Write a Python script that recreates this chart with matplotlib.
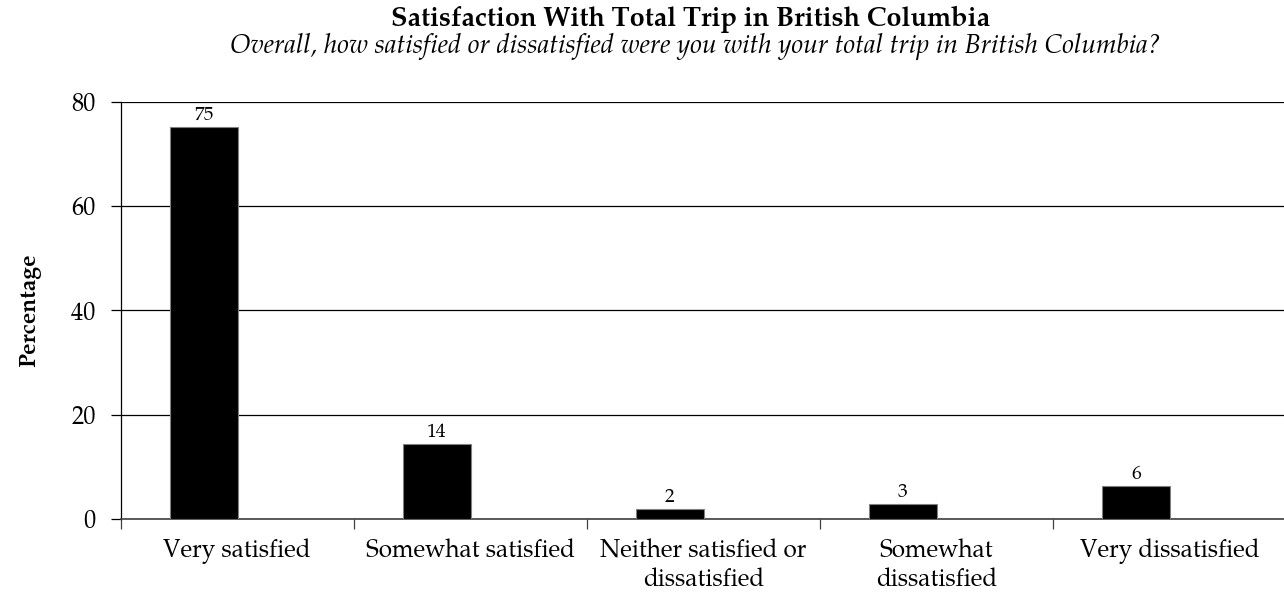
import matplotlib.pyplot as plt
import numpy as np

plt.rcParams['font.family'] = ['P052', 'TeX Gyre Pagella', 'URW Palladio L', 'Liberation Serif', 'DejaVu Serif']

# Data
categories = ["Very satisfied", "Somewhat satisfied", "Neither satisfied or\ndissatisfied",
              "Somewhat\ndissatisfied", "Very dissatisfied"]
values = [75.1, 14.4, 1.9, 2.8, 6.3]
value_labels = ["75", "14", "2", "3", "6"]
y_ticks = [0, 20, 40, 60, 80]

fig = plt.figure(figsize=(12.84, 5.92), dpi=100)
ax = fig.add_axes([0.094, 0.1233, 0.9075, 0.7049])

x = np.arange(len(categories))
bar_w = 0.295
bars = ax.bar(x - 0.143, values, width=bar_w, color="black", edgecolor="#808080",
              linewidth=0.8, zorder=3)

for b, lab in zip(bars, value_labels):
    ax.text(b.get_x() + b.get_width() / 2, b.get_height() + 0.4, lab,
            ha="center", va="bottom", fontsize=14)

ax.set_xlim(-0.5, len(categories) - 0.5)
ax.set_ylim(0, 80)
ax.set_yticks(y_ticks)
ax.yaxis.grid(True, color="black", linewidth=0.9, zorder=0)
ax.tick_params(axis="y", direction="out", length=7, width=0.9, labelsize=17.5, pad=11)

# category labels centred, ticks between categories
ax.set_xticks(x)
ax.set_xticklabels(categories, fontsize=17.5, linespacing=1.18)
ax.tick_params(axis="x", which="major", length=0, pad=14)
ax.set_xticks(np.arange(-0.5, len(categories) + 0.5, 1), minor=True)
ax.tick_params(axis="x", which="minor", direction="out", length=7, width=0.9, color="#404040")

for side in ["top", "right"]:
    ax.spines[side].set_visible(False)
ax.spines["left"].set_color("black")
ax.spines["bottom"].set_color("#404040")
ax.spines["left"].set_linewidth(0.9)
ax.spines["bottom"].set_linewidth(1.2)

ax.set_ylabel("Percentage", fontsize=16.5, fontweight="bold")
ax.yaxis.set_label_coords(-0.068, 0.5)

fig.text(0.538, 0.968, "Satisfaction With Total Trip in British Columbia",
         ha="center", va="center", fontsize=19.5, fontweight="bold")
fig.text(0.542, 0.922, "Overall, how satisfied or dissatisfied were you with your total trip in British Columbia?",
         ha="center", va="center", fontsize=19, style="italic")

plt.savefig("out.png", dpi=100)
